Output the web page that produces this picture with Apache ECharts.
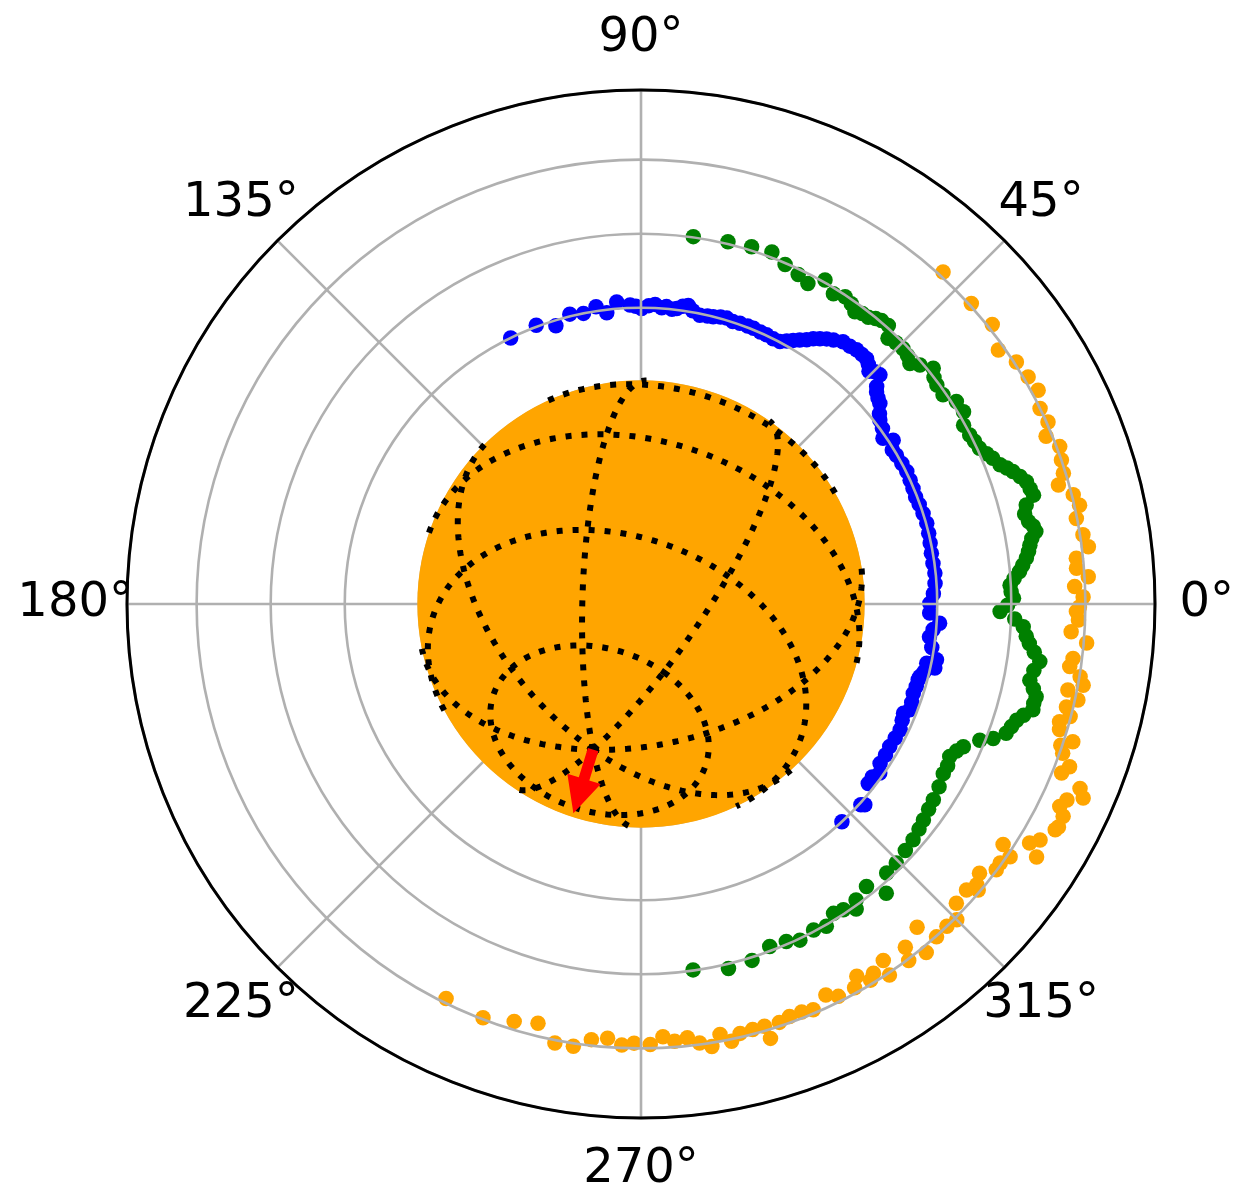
<!DOCTYPE html>
<html>
<head>
<meta charset="utf-8">
<script src="https://cdn.jsdelivr.net/npm/echarts@6/dist/echarts.min.js"></script>
<style>
  html, body { margin: 0; padding: 0; background: #ffffff; }
  #chart { width: 1258px; height: 1188px; }
</style>
</head>
<body>
<div id="chart"></div>
<script>
// Theta ticks and their labels
const THETA_TICKS = [0, 45, 90, 135, 180, 225, 270, 315];
const THETA_LABELS = ['0°', '45°', '90°', '135°', '180°', '225°', '270°', '315°'];

// Inner ring (blue): angle in degrees, radius
const BLUE_THETA = [116.1, 110.6, 107.0, 103.8, 101.2, 98.6, 96.7, 94.6, 92.1, 91.0,
  89.9, 88.5, 87.3, 86.0, 85.1, 84.0, 83.1, 82.0, 81.0, 80.0,
  78.5, 77.0, 75.9, 74.5, 73.3, 72.0, 70.6, 69.0, 67.8, 66.3,
  65.0, 63.5, 62.1, 61.0, 60.0, 59.0, 57.9, 57.0, 56.0, 55.0,
  53.9, 52.4, 51.0, 49.7, 48.5, 47.4, 46.5, 45.6, 44.8, 43.8,
  42.7, 42.0, 41.0, 40.0, 38.6, 37.6, 36.0, 34.4, 33.0, 31.5,
  30.2, 28.3, 26.5, 24.7, 23.0, 21.3, 19.7, 17.8, 15.8, 13.8,
  11.9, 9.9, 7.9, 6.0, 4.0, 2.0, 0.1, -1.8, -3.7, -5.0,
  -6.5, -8.5, -10.7, -11.7, -12.3, -13.5, -14.6, -15.3, -16.7, -18.2,
  -20.0, -21.5, -22.6, -24.0, -25.9, -27.8, -29.8, -31.7, -33.7, -35.3,
  -36.8, -38.3, -41.9, -42.4, -47.3];
const BLUE_R = [4.00, 4.02, 3.93, 4.03, 4.00, 4.06, 3.96, 4.09, 4.04, 4.02,
  3.99, 4.03, 4.05, 4.01, 4.03, 4.00, 4.02, 4.06, 4.08, 4.02,
  3.98, 3.99, 4.00, 4.02, 4.03, 4.01, 4.02, 4.02, 4.02, 4.01,
  4.01, 4.00, 4.01, 4.06, 4.11, 4.16, 4.21, 4.27, 4.32, 4.37,
  4.41, 4.47, 4.48, 4.50, 4.50, 4.50, 4.46, 4.40, 4.45, 4.47,
  4.33, 4.28, 4.24, 4.21, 4.12, 4.07, 4.03, 3.96, 4.06, 3.98,
  3.99, 4.00, 4.01, 4.00, 3.99, 3.98, 3.99, 4.00, 4.01, 4.00,
  3.99, 3.98, 3.98, 3.99, 3.98, 3.95, 3.90, 3.90, 4.04, 3.96,
  3.92, 3.97, 4.06, 3.94, 4.06, 3.93, 3.89, 3.88, 3.88, 3.87,
  3.89, 3.90, 3.84, 3.86, 3.89, 3.88, 3.87, 3.88, 3.88, 3.95,
  3.90, 3.91, 4.06, 4.02, 4.00];

// Middle ring (green)
const GREEN_THETA = [81.9, 76.5, 72.8, 69.6, 67.0, 64.5, 62.5, 60.4, 58.2, 56.4,
  55.0, 53.8, 52.7, 51.6, 50.6, 49.7, 48.4, 47.1, 45.7, 44.3,
  43.0, 41.8, 40.6, 38.9, 37.7, 36.5, 34.7, 32.7, 30.8, 29.0,
  27.2, 26.0, 24.7, 23.5, 22.5, 21.2, 20.4, 19.6, 18.6, 17.6,
  16.5, 15.5, 14.4, 13.2, 12.0, 11.2, 10.4, 9.5, 8.6, 7.7,
  6.8, 5.8, 4.9, 3.9, 2.9, 1.9, 0.9, -0.2, -1.2, -2.3,
  -3.4, -4.8, -5.8, -7.0, -8.2, -9.6, -11.1, -12.2, -13.2, -14.2,
  -15.1, -16.2, -17.2, -18.3, -19.5, -20.9, -21.9, -23.9, -25.0, -26.3,
  -27.8, -29.3, -31.5, -33.8, -35.5, -37.4, -39.0, -40.9, -43.0, -45.4,
  -47.6, -49.7, -51.4, -54.0, -54.8, -56.5, -58.1, -60.1, -62.1, -64.7,
  -66.7, -69.4, -72.7, -76.5, -81.9];
const GREEN_R = [5.01, 5.03, 5.05, 5.07, 4.98, 4.93, 4.88, 5.03, 4.93, 4.98,
  4.95, 4.89, 4.93, 4.94, 4.99, 5.02, 5.03, 4.90, 4.93, 4.94,
  4.92, 4.87, 4.96, 5.07, 5.00, 4.97, 4.96, 5.06, 5.07, 4.98,
  4.99, 5.01, 5.03, 5.09, 5.14, 5.20, 5.27, 5.33, 5.40, 5.46,
  5.48, 5.50, 5.37, 5.32, 5.35, 5.40, 5.42, 5.35, 5.31, 5.28,
  5.24, 5.18, 5.13, 5.05, 4.99, 5.00, 5.03, 4.95, 4.85, 5.05,
  5.17, 5.22, 5.27, 5.35, 5.44, 5.38, 5.35, 5.42, 5.48, 5.47,
  5.48, 5.38, 5.31, 5.27, 5.23, 5.09, 4.93, 4.76, 4.70, 4.65,
  4.68, 4.68, 4.72, 4.75, 4.77, 4.80, 4.83, 4.86, 4.88, 4.91,
  4.92, 5.12, 4.88, 4.94, 5.04, 4.95, 4.92, 5.02, 4.98, 5.02,
  4.96, 4.94, 5.04, 5.06, 4.99];

// Outer ring (orange)
const ORANGE_THETA = [47.7, 42.3, 38.5, 35.4, 32.8, 30.4, 28.3, 26.1, 24.1, 22.5,
  20.6, 18.9, 17.2, 15.9, 14.2, 12.7, 11.1, 8.9, 7.3, 6.0,
  4.7, 3.5, 2.3, 0.9, -0.4, -1.0, -2.1, -3.7, -5.0, -7.2,
  -8.3, -9.4, -10.4, -11.4, -12.4, -13.6, -14.7, -15.7, -16.7, -17.7,
  -18.6, -19.5, -20.8, -21.9, -22.8, -23.7, -24.7, -25.8, -26.7, -28.1,
  -28.6, -30.6, -31.6, -32.6, -33.6, -34.4, -35.8, -36.8, -38.5, -39.9,
  -40.3, -41.3, -43.5, -45.0, -46.5, -48.4, -49.5, -50.7, -52.4, -53.1,
  -55.8, -56.2, -57.8, -58.6, -59.9, -60.9, -63.3, -64.7, -67.0, -68.5,
  -70.2, -71.7, -73.4, -73.7, -75.3, -77.0, -78.3, -79.6, -80.9, -82.4,
  -83.9, -85.6, -87.1, -88.8, -90.9, -92.5, -94.4, -96.5, -98.7, -101.1,
  -103.8, -106.9, -110.9, -116.3];
const ORANGE_R = [6.06, 6.03, 6.06, 5.92, 6.03, 6.06, 6.09, 6.00, 6.02, 5.92,
  6.04, 6.00, 5.97, 5.86, 6.02, 6.07, 5.99, 6.04, 6.09, 5.91,
  5.90, 6.05, 5.86, 5.97, 5.92, 5.88, 5.91, 5.82, 6.04, 5.88,
  5.85, 6.01, 6.07, 5.88, 6.04, 5.91, 5.99, 5.87, 5.90, 6.12,
  5.98, 6.04, 6.19, 6.12, 6.43, 6.52, 6.33, 6.28, 6.38, 6.39,
  6.37, 6.26, 6.16, 6.34, 5.87, 6.04, 5.98, 5.99, 5.84, 5.91,
  5.97, 5.85, 5.87, 6.03, 6.00, 6.01, 5.74, 6.08, 5.85, 6.02,
  5.82, 6.03, 5.89, 5.95, 5.81, 5.93, 5.93, 5.84, 5.95, 5.92,
  5.92, 5.95, 6.12, 5.94, 5.94, 5.95, 6.03, 5.91, 6.05, 5.98,
  5.89, 5.92, 5.85, 5.95, 5.93, 5.96, 5.88, 5.92, 6.04, 6.04,
  5.83, 5.89, 5.98, 5.94];

// Globe drawn at the pole: orthographic view of a sphere
const GLOBE_RADIUS = 3.02;
const POLE_AZIMUTH = 251.8;   // direction of the north pole on the plot, degrees
const POLE_TILT = 43.3;       // pole tilt away from the line of sight, degrees
const MERIDIAN_OFFSET = 22.5; // longitude of the first meridian, degrees
const PARALLELS = [-60, -30, 0, 30, 60];
const MERIDIANS = [0, 45, 90, 135, 180, 225, 270, 315];

// Red arrow: [radius, angle] of tail and tip
const ARROW_START = [2.07, 251.8];
const ARROW_END = [2.97, 252.1];

const RADIUS_MAX = 6.94;
const LABEL_RADIUS = 7.64;

const DEG = Math.PI / 180;
const norm360 = a => ((a % 360) + 360) % 360;
const pairs = (th, r) => th.map((t, i) => [r[i], norm360(t)]);

// Sphere basis: P = pole, U/W span the equator plane
const cA = Math.cos(POLE_AZIMUTH * DEG), sA = Math.sin(POLE_AZIMUTH * DEG);
const cT = Math.cos(POLE_TILT * DEG), sT = Math.sin(POLE_TILT * DEG);
const P = [sT * cA, sT * sA, cT];
const U = [-cT * cA, -cT * sA, sT];
const W = [-sA, cA, 0];

function spherePoint(lat, lon) {
  const cl = Math.cos(lat * DEG), sl = Math.sin(lat * DEG);
  const l = (lon + MERIDIAN_OFFSET) * DEG;
  const a = cl * Math.cos(l), b = cl * Math.sin(l);
  return [0, 1, 2].map(i => sl * P[i] + a * U[i] + b * W[i]);
}

// Front-facing runs of a curve, converted to [radius, angle]
function visibleRuns(fn, from, to, step, closed) {
  const runs = [];
  let cur = [];
  const n = Math.round((to - from) / step);
  for (let k = 0; k <= n; k++) {
    const v = fn(from + k * step);
    if (v[2] > 0) {
      cur.push([GLOBE_RADIUS * Math.hypot(v[0], v[1]), norm360(Math.atan2(v[1], v[0]) / DEG)]);
    } else if (cur.length) {
      runs.push(cur);
      cur = [];
    }
  }
  if (cur.length) runs.push(cur);
  if (closed && runs.length > 1 && fn(from)[2] > 0 && fn(to)[2] > 0) {
    const tail = runs.pop();
    runs[0] = tail.concat(runs[0]);
  }
  return runs;
}

const globeLines = [];
PARALLELS.forEach(lat => {
  visibleRuns(lon => spherePoint(lat, lon), 0, 360, 1, true).forEach(r => globeLines.push(r));
});
MERIDIANS.forEach(lon => {
  visibleRuns(lat => spherePoint(lat, lon), 90, -90, -1, false).forEach(r => globeLines.push(r));
});

const scatterBase = {
  type: 'scatter',
  coordinateSystem: 'polar',
  symbol: 'circle',
  symbolSize: 15.5,
  z: 2,
  silent: true
};

const series = [
  Object.assign({}, scatterBase, { name: 'inner', data: pairs(BLUE_THETA, BLUE_R), itemStyle: { color: '#0000ff', opacity: 1 } }),
  Object.assign({}, scatterBase, { name: 'middle', data: pairs(GREEN_THETA, GREEN_R), itemStyle: { color: '#008000', opacity: 1 } }),
  Object.assign({}, scatterBase, { name: 'outer', data: pairs(ORANGE_THETA, ORANGE_R), itemStyle: { color: '#ffa500', opacity: 1 } }),
  {
    type: 'custom',
    coordinateSystem: 'polar',
    z: 5,
    silent: true,
    data: [[GLOBE_RADIUS, 0]],
    renderItem: (params, api) => {
      const c = api.coord([0, 0]);
      const e = api.coord([api.value(0), 0]);
      return {
        type: 'circle',
        shape: { cx: c[0], cy: c[1], r: Math.hypot(e[0] - c[0], e[1] - c[1]) },
        style: { fill: '#ffa500' }
      };
    }
  }
];

globeLines.forEach(line => {
  series.push({
    type: 'line',
    coordinateSystem: 'polar',
    data: line,
    showSymbol: false,
    symbol: 'none',
    silent: true,
    z: 6,
    lineStyle: { color: '#000000', width: 6, type: [6, 10], cap: 'butt' }
  });
});

series.push({
  type: 'custom',
  coordinateSystem: 'polar',
  z: 7,
  silent: true,
  encode: { radius: 0, angle: 1 },
  data: [[ARROW_START[0], ARROW_START[1], ARROW_END[0], ARROW_END[1]]],
  renderItem: (params, api) => {
    const s = api.coord([api.value(0), api.value(1)]);
    const e = api.coord([api.value(2), api.value(3)]);
    const len = Math.hypot(e[0] - s[0], e[1] - s[1]);
    const d = [(e[0] - s[0]) / len, (e[1] - s[1]) / len];
    const n = [-d[1], d[0]];
    const headLen = 36, headW = 35, shaftW = 11;
    const b = [e[0] - d[0] * headLen, e[1] - d[1] * headLen];
    const at = (p, k) => [p[0] + n[0] * k, p[1] + n[1] * k];
    return {
      type: 'polygon',
      shape: { points: [at(s, shaftW / 2), at(b, shaftW / 2), at(b, headW / 2), e, at(b, -headW / 2), at(b, -shaftW / 2), at(s, -shaftW / 2)] },
      style: { fill: '#ff0000' }
    };
  }
});

series.push({
  type: 'scatter',
  coordinateSystem: 'polar',
  data: THETA_TICKS.map(t => [LABEL_RADIUS, t]),
  symbolSize: 1,
  itemStyle: { color: 'rgba(0,0,0,0)', opacity: 1 },
  clip: false,
  silent: true,
  z: 8,
  label: {
    show: true,
    position: 'inside',
    formatter: p => THETA_LABELS[p.dataIndex],
    fontSize: 48,
    fontFamily: 'DejaVu Sans',
    color: '#000000',
    opacity: 1
  }
});

const chart = echarts.init(document.getElementById('chart'), null, { renderer: 'canvas' });
chart.setOption({
  animation: false,
  backgroundColor: '#ffffff',
  polar: { center: [641, 604], radius: 514 },
  angleAxis: {
    type: 'value', min: 0, max: 360, interval: 45,
    startAngle: 0, clockwise: false, z: 4,
    axisLine: { show: true, lineStyle: { color: '#000000', width: 3 } },
    axisTick: { show: false },
    axisLabel: { show: false },
    splitLine: { show: true, lineStyle: { color: '#b0b0b0', width: 2.6 } }
  },
  radiusAxis: {
    type: 'value', min: 0, max: RADIUS_MAX, interval: 1, z: 3,
    axisLine: { show: false },
    axisTick: { show: false },
    axisLabel: { show: false },
    splitLine: { show: true, lineStyle: { color: '#b0b0b0', width: 2.6 } }
  },
  series: series
});
</script>
</body>
</html>
